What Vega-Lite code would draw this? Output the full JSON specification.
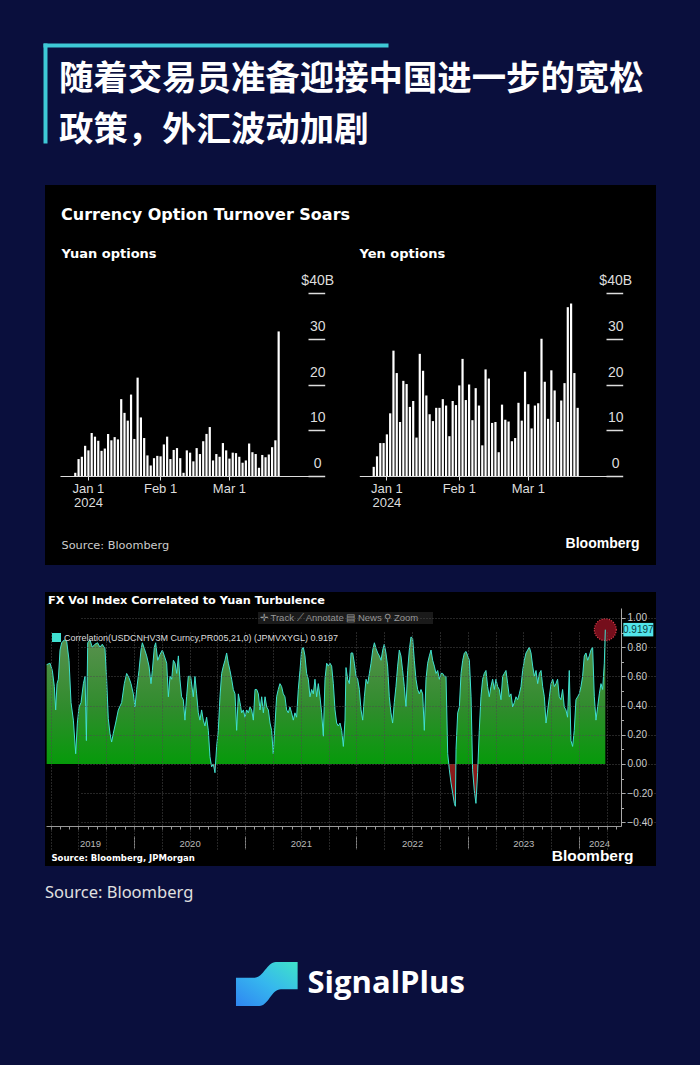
{
  "$schema": "https://vega.github.io/schema/vega-lite/v6.json",
  "background": "#0a0f3d",
  "padding": {"left": 44, "top": 45, "right": 45, "bottom": 0},
  "config": {"view": {"stroke": null}},
  "datasets": {
    "options": [
      {"date": "2023-12-26", "yuan": 0.7, "yen": 2.0},
      {"date": "2023-12-27", "yuan": 3.7, "yen": 4.3},
      {"date": "2023-12-28", "yuan": 4.2, "yen": 7.2},
      {"date": "2023-12-29", "yuan": 6.6, "yen": 7.2},
      {"date": "2024-01-02", "yuan": 5.6, "yen": 9.1},
      {"date": "2024-01-03", "yuan": 9.4, "yen": 13.7},
      {"date": "2024-01-04", "yuan": 8.6, "yen": 27.4},
      {"date": "2024-01-05", "yuan": 7.7, "yen": 22.5},
      {"date": "2024-01-08", "yuan": 5.5, "yen": 11.8},
      {"date": "2024-01-09", "yuan": 6.0, "yen": 20.8},
      {"date": "2024-01-10", "yuan": 9.2, "yen": 20.1},
      {"date": "2024-01-11", "yuan": 7.8, "yen": 15.1},
      {"date": "2024-01-12", "yuan": 8.5, "yen": 16.4},
      {"date": "2024-01-15", "yuan": 8.0, "yen": 8.4},
      {"date": "2024-01-16", "yuan": 16.8, "yen": 26.7},
      {"date": "2024-01-17", "yuan": 13.8, "yen": 23.0},
      {"date": "2024-01-18", "yuan": 12.1, "yen": 17.6},
      {"date": "2024-01-19", "yuan": 17.8, "yen": 13.5},
      {"date": "2024-01-22", "yuan": 8.1, "yen": 12.0},
      {"date": "2024-01-23", "yuan": 21.5, "yen": 14.9},
      {"date": "2024-01-24", "yuan": 12.8, "yen": 14.9},
      {"date": "2024-01-25", "yuan": 8.3, "yen": 16.8},
      {"date": "2024-01-26", "yuan": 4.5, "yen": 15.4},
      {"date": "2024-01-29", "yuan": 2.3, "yen": 8.7},
      {"date": "2024-01-30", "yuan": 3.9, "yen": 16.4},
      {"date": "2024-01-31", "yuan": 4.4, "yen": 15.5},
      {"date": "2024-02-01", "yuan": 4.3, "yen": 19.8},
      {"date": "2024-02-02", "yuan": 6.9, "yen": 25.6},
      {"date": "2024-02-05", "yuan": 8.6, "yen": 16.6},
      {"date": "2024-02-06", "yuan": 3.7, "yen": 20.0},
      {"date": "2024-02-07", "yuan": 5.7, "yen": 12.2},
      {"date": "2024-02-08", "yuan": 6.1, "yen": 19.2},
      {"date": "2024-02-09", "yuan": 3.9, "yen": 15.4},
      {"date": "2024-02-12", "yuan": 0.7, "yen": 6.7},
      {"date": "2024-02-13", "yuan": 5.6, "yen": 23.3},
      {"date": "2024-02-14", "yuan": 5.1, "yen": 21.3},
      {"date": "2024-02-15", "yuan": 3.2, "yen": 11.6},
      {"date": "2024-02-16", "yuan": 6.1, "yen": 11.8},
      {"date": "2024-02-19", "yuan": 4.8, "yen": 5.2},
      {"date": "2024-02-20", "yuan": 7.6, "yen": 15.6},
      {"date": "2024-02-21", "yuan": 9.2, "yen": 12.3},
      {"date": "2024-02-22", "yuan": 10.7, "yen": 11.9},
      {"date": "2024-02-23", "yuan": 3.4, "yen": 7.6},
      {"date": "2024-02-26", "yuan": 4.8, "yen": 8.3},
      {"date": "2024-02-27", "yuan": 4.2, "yen": 16.0},
      {"date": "2024-02-28", "yuan": 7.2, "yen": 12.1},
      {"date": "2024-02-29", "yuan": 5.6, "yen": 22.8},
      {"date": "2024-03-01", "yuan": 3.8, "yen": 15.7},
      {"date": "2024-03-04", "yuan": 5.1, "yen": 10.4},
      {"date": "2024-03-05", "yuan": 5.0, "yen": 15.4},
      {"date": "2024-03-06", "yuan": 4.2, "yen": 15.9},
      {"date": "2024-03-07", "yuan": 2.9, "yen": 30.0},
      {"date": "2024-03-08", "yuan": 3.4, "yen": 20.6},
      {"date": "2024-03-11", "yuan": 7.1, "yen": 12.5},
      {"date": "2024-03-12", "yuan": 5.2, "yen": 23.1},
      {"date": "2024-03-13", "yuan": 4.8, "yen": 18.7},
      {"date": "2024-03-14", "yuan": 1.8, "yen": 11.8},
      {"date": "2024-03-15", "yuan": 4.6, "yen": 16.5},
      {"date": "2024-03-18", "yuan": 4.1, "yen": 20.3},
      {"date": "2024-03-19", "yuan": 4.7, "yen": 36.9},
      {"date": "2024-03-20", "yuan": 6.3, "yen": 37.7},
      {"date": "2024-03-21", "yuan": 7.8, "yen": 22.5},
      {"date": "2024-03-22", "yuan": 31.6, "yen": 14.9}
    ],
    "fx": [
      {"t": 2019.215, "v": 0.68}, {"t": 2019.245, "v": 0.69}, {"t": 2019.266, "v": 0.64}, {"t": 2019.284, "v": 0.53},
      {"t": 2019.296, "v": 0.37}, {"t": 2019.308, "v": 0.55}, {"t": 2019.320, "v": 0.58}, {"t": 2019.335, "v": 0.78},
      {"t": 2019.350, "v": 0.83}, {"t": 2019.374, "v": 0.85}, {"t": 2019.395, "v": 0.84}, {"t": 2019.416, "v": 0.71},
      {"t": 2019.434, "v": 0.42}, {"t": 2019.455, "v": 0.30}, {"t": 2019.476, "v": 0.07}, {"t": 2019.491, "v": 0.28},
      {"t": 2019.506, "v": 0.39}, {"t": 2019.524, "v": 0.42}, {"t": 2019.545, "v": 0.55}, {"t": 2019.560, "v": 0.60},
      {"t": 2019.572, "v": 0.16}, {"t": 2019.584, "v": 0.83}, {"t": 2019.604, "v": 0.85}, {"t": 2019.625, "v": 0.80},
      {"t": 2019.649, "v": 0.82}, {"t": 2019.673, "v": 0.83}, {"t": 2019.694, "v": 0.80}, {"t": 2019.715, "v": 0.82},
      {"t": 2019.739, "v": 0.79}, {"t": 2019.754, "v": 0.58}, {"t": 2019.769, "v": 0.31}, {"t": 2019.784, "v": 0.21},
      {"t": 2019.799, "v": 0.15}, {"t": 2019.814, "v": 0.21}, {"t": 2019.835, "v": 0.28}, {"t": 2019.859, "v": 0.37},
      {"t": 2019.889, "v": 0.42}, {"t": 2019.913, "v": 0.55}, {"t": 2019.934, "v": 0.62}, {"t": 2019.955, "v": 0.59},
      {"t": 2019.973, "v": 0.55}, {"t": 2019.994, "v": 0.48}, {"t": 2020.009, "v": 0.39}, {"t": 2020.024, "v": 0.51},
      {"t": 2020.045, "v": 0.64}, {"t": 2020.063, "v": 0.78}, {"t": 2020.075, "v": 0.83}, {"t": 2020.093, "v": 0.79},
      {"t": 2020.114, "v": 0.74}, {"t": 2020.135, "v": 0.67}, {"t": 2020.153, "v": 0.55}, {"t": 2020.165, "v": 0.64},
      {"t": 2020.183, "v": 0.80}, {"t": 2020.195, "v": 0.83}, {"t": 2020.213, "v": 0.71}, {"t": 2020.234, "v": 0.75},
      {"t": 2020.255, "v": 0.78}, {"t": 2020.273, "v": 0.74}, {"t": 2020.294, "v": 0.69}, {"t": 2020.309, "v": 0.46},
      {"t": 2020.324, "v": 0.60}, {"t": 2020.339, "v": 0.58}, {"t": 2020.354, "v": 0.71}, {"t": 2020.369, "v": 0.69},
      {"t": 2020.384, "v": 0.62}, {"t": 2020.399, "v": 0.74}, {"t": 2020.413, "v": 0.58}, {"t": 2020.428, "v": 0.46},
      {"t": 2020.443, "v": 0.44}, {"t": 2020.458, "v": 0.30}, {"t": 2020.473, "v": 0.46}, {"t": 2020.488, "v": 0.60},
      {"t": 2020.509, "v": 0.60}, {"t": 2020.533, "v": 0.46}, {"t": 2020.548, "v": 0.60}, {"t": 2020.563, "v": 0.48},
      {"t": 2020.578, "v": 0.35}, {"t": 2020.593, "v": 0.30}, {"t": 2020.608, "v": 0.37}, {"t": 2020.623, "v": 0.30},
      {"t": 2020.638, "v": 0.26}, {"t": 2020.653, "v": 0.32}, {"t": 2020.668, "v": 0.23}, {"t": 2020.683, "v": 0.05},
      {"t": 2020.698, "v": -0.02}, {"t": 2020.713, "v": 0.00}, {"t": 2020.728, "v": -0.06}, {"t": 2020.743, "v": 0.12},
      {"t": 2020.758, "v": 0.23}, {"t": 2020.773, "v": 0.46}, {"t": 2020.788, "v": 0.62}, {"t": 2020.803, "v": 0.67},
      {"t": 2020.818, "v": 0.71}, {"t": 2020.833, "v": 0.76}, {"t": 2020.848, "v": 0.69}, {"t": 2020.863, "v": 0.64},
      {"t": 2020.878, "v": 0.58}, {"t": 2020.893, "v": 0.51}, {"t": 2020.908, "v": 0.48}, {"t": 2020.923, "v": 0.23},
      {"t": 2020.938, "v": 0.48}, {"t": 2020.953, "v": 0.42}, {"t": 2020.968, "v": 0.35}, {"t": 2020.983, "v": 0.37},
      {"t": 2020.998, "v": 0.32}, {"t": 2021.013, "v": 0.37}, {"t": 2021.028, "v": 0.35}, {"t": 2021.043, "v": 0.39},
      {"t": 2021.058, "v": 0.37}, {"t": 2021.073, "v": 0.30}, {"t": 2021.088, "v": 0.51}, {"t": 2021.103, "v": 0.51},
      {"t": 2021.118, "v": 0.48}, {"t": 2021.133, "v": 0.37}, {"t": 2021.148, "v": 0.46}, {"t": 2021.163, "v": 0.35},
      {"t": 2021.178, "v": 0.46}, {"t": 2021.193, "v": 0.39}, {"t": 2021.208, "v": 0.37}, {"t": 2021.223, "v": 0.28},
      {"t": 2021.237, "v": 0.23}, {"t": 2021.252, "v": 0.07}, {"t": 2021.267, "v": 0.26}, {"t": 2021.282, "v": 0.46},
      {"t": 2021.297, "v": 0.51}, {"t": 2021.312, "v": 0.55}, {"t": 2021.327, "v": 0.53}, {"t": 2021.342, "v": 0.48},
      {"t": 2021.357, "v": 0.46}, {"t": 2021.372, "v": 0.37}, {"t": 2021.387, "v": 0.35}, {"t": 2021.402, "v": 0.39},
      {"t": 2021.417, "v": 0.35}, {"t": 2021.432, "v": 0.30}, {"t": 2021.447, "v": 0.35}, {"t": 2021.462, "v": 0.32},
      {"t": 2021.477, "v": 0.51}, {"t": 2021.492, "v": 0.64}, {"t": 2021.507, "v": 0.78}, {"t": 2021.522, "v": 0.80},
      {"t": 2021.537, "v": 0.74}, {"t": 2021.552, "v": 0.62}, {"t": 2021.567, "v": 0.58}, {"t": 2021.582, "v": 0.46},
      {"t": 2021.597, "v": 0.51}, {"t": 2021.612, "v": 0.48}, {"t": 2021.627, "v": 0.58}, {"t": 2021.642, "v": 0.46},
      {"t": 2021.657, "v": 0.55}, {"t": 2021.672, "v": 0.46}, {"t": 2021.687, "v": 0.35}, {"t": 2021.702, "v": 0.19},
      {"t": 2021.717, "v": 0.58}, {"t": 2021.732, "v": 0.69}, {"t": 2021.747, "v": 0.67}, {"t": 2021.762, "v": 0.69},
      {"t": 2021.777, "v": 0.67}, {"t": 2021.792, "v": 0.55}, {"t": 2021.807, "v": 0.37}, {"t": 2021.822, "v": 0.28},
      {"t": 2021.837, "v": 0.26}, {"t": 2021.852, "v": 0.28}, {"t": 2021.867, "v": 0.23}, {"t": 2021.882, "v": 0.12},
      {"t": 2021.897, "v": 0.30}, {"t": 2021.906, "v": 0.66}, {"t": 2021.921, "v": 0.58}, {"t": 2021.936, "v": 0.55},
      {"t": 2021.951, "v": 0.76}, {"t": 2021.966, "v": 0.76}, {"t": 2021.981, "v": 0.69}, {"t": 2021.996, "v": 0.60},
      {"t": 2022.011, "v": 0.58}, {"t": 2022.026, "v": 0.51}, {"t": 2022.041, "v": 0.37}, {"t": 2022.056, "v": 0.30},
      {"t": 2022.071, "v": 0.46}, {"t": 2022.086, "v": 0.58}, {"t": 2022.101, "v": 0.55}, {"t": 2022.116, "v": 0.62},
      {"t": 2022.131, "v": 0.69}, {"t": 2022.146, "v": 0.78}, {"t": 2022.161, "v": 0.83}, {"t": 2022.176, "v": 0.79},
      {"t": 2022.191, "v": 0.76}, {"t": 2022.206, "v": 0.74}, {"t": 2022.221, "v": 0.71}, {"t": 2022.236, "v": 0.78},
      {"t": 2022.250, "v": 0.82}, {"t": 2022.265, "v": 0.76}, {"t": 2022.280, "v": 0.67}, {"t": 2022.295, "v": 0.46},
      {"t": 2022.310, "v": 0.35}, {"t": 2022.325, "v": 0.28}, {"t": 2022.340, "v": 0.42}, {"t": 2022.355, "v": 0.53},
      {"t": 2022.370, "v": 0.67}, {"t": 2022.385, "v": 0.78}, {"t": 2022.400, "v": 0.74}, {"t": 2022.415, "v": 0.64},
      {"t": 2022.430, "v": 0.53}, {"t": 2022.445, "v": 0.39}, {"t": 2022.460, "v": 0.64}, {"t": 2022.475, "v": 0.78},
      {"t": 2022.490, "v": 0.87}, {"t": 2022.505, "v": 0.86}, {"t": 2022.520, "v": 0.71}, {"t": 2022.535, "v": 0.58},
      {"t": 2022.550, "v": 0.51}, {"t": 2022.565, "v": 0.48}, {"t": 2022.580, "v": 0.51}, {"t": 2022.595, "v": 0.48},
      {"t": 2022.610, "v": 0.23}, {"t": 2022.625, "v": 0.58}, {"t": 2022.640, "v": 0.69}, {"t": 2022.655, "v": 0.74},
      {"t": 2022.670, "v": 0.78}, {"t": 2022.685, "v": 0.71}, {"t": 2022.700, "v": 0.67}, {"t": 2022.715, "v": 0.62},
      {"t": 2022.730, "v": 0.64}, {"t": 2022.745, "v": 0.58}, {"t": 2022.760, "v": 0.62}, {"t": 2022.775, "v": 0.62},
      {"t": 2022.790, "v": 0.60}, {"t": 2022.805, "v": 0.60}, {"t": 2022.820, "v": 0.07}, {"t": 2022.835, "v": -0.04},
      {"t": 2022.850, "v": -0.13}, {"t": 2022.865, "v": -0.20}, {"t": 2022.880, "v": -0.27}, {"t": 2022.889, "v": -0.29},
      {"t": 2022.895, "v": 0.10}, {"t": 2022.910, "v": 0.35}, {"t": 2022.925, "v": 0.39}, {"t": 2022.940, "v": 0.62},
      {"t": 2022.955, "v": 0.71}, {"t": 2022.970, "v": 0.76}, {"t": 2022.985, "v": 0.77}, {"t": 2023.000, "v": 0.74},
      {"t": 2023.015, "v": 0.71}, {"t": 2023.030, "v": 0.46}, {"t": 2023.044, "v": -0.04}, {"t": 2023.059, "v": -0.18},
      {"t": 2023.074, "v": -0.27}, {"t": 2023.089, "v": -0.06}, {"t": 2023.104, "v": 0.23}, {"t": 2023.119, "v": 0.46},
      {"t": 2023.134, "v": 0.58}, {"t": 2023.149, "v": 0.62}, {"t": 2023.164, "v": 0.64}, {"t": 2023.179, "v": 0.53},
      {"t": 2023.194, "v": 0.46}, {"t": 2023.209, "v": 0.53}, {"t": 2023.224, "v": 0.58}, {"t": 2023.239, "v": 0.51},
      {"t": 2023.254, "v": 0.58}, {"t": 2023.269, "v": 0.53}, {"t": 2023.284, "v": 0.51}, {"t": 2023.299, "v": 0.44},
      {"t": 2023.314, "v": 0.60}, {"t": 2023.329, "v": 0.62}, {"t": 2023.344, "v": 0.64}, {"t": 2023.359, "v": 0.55},
      {"t": 2023.374, "v": 0.46}, {"t": 2023.389, "v": 0.48}, {"t": 2023.404, "v": 0.39}, {"t": 2023.419, "v": 0.42},
      {"t": 2023.434, "v": 0.46}, {"t": 2023.449, "v": 0.44}, {"t": 2023.464, "v": 0.48}, {"t": 2023.479, "v": 0.53},
      {"t": 2023.494, "v": 0.64}, {"t": 2023.509, "v": 0.71}, {"t": 2023.524, "v": 0.76}, {"t": 2023.539, "v": 0.78},
      {"t": 2023.554, "v": 0.80}, {"t": 2023.569, "v": 0.76}, {"t": 2023.584, "v": 0.67}, {"t": 2023.599, "v": 0.60},
      {"t": 2023.614, "v": 0.64}, {"t": 2023.629, "v": 0.55}, {"t": 2023.644, "v": 0.62}, {"t": 2023.659, "v": 0.64},
      {"t": 2023.674, "v": 0.53}, {"t": 2023.689, "v": 0.46}, {"t": 2023.704, "v": 0.28}, {"t": 2023.719, "v": 0.37},
      {"t": 2023.734, "v": 0.46}, {"t": 2023.749, "v": 0.55}, {"t": 2023.764, "v": 0.58}, {"t": 2023.779, "v": 0.53},
      {"t": 2023.793, "v": 0.55}, {"t": 2023.808, "v": 0.58}, {"t": 2023.823, "v": 0.46}, {"t": 2023.838, "v": 0.44},
      {"t": 2023.853, "v": 0.51}, {"t": 2023.868, "v": 0.39}, {"t": 2023.883, "v": 0.37}, {"t": 2023.898, "v": 0.32},
      {"t": 2023.913, "v": 0.64}, {"t": 2023.928, "v": 0.16}, {"t": 2023.943, "v": 0.12}, {"t": 2023.958, "v": 0.23},
      {"t": 2023.973, "v": 0.44}, {"t": 2023.988, "v": 0.46}, {"t": 2024.003, "v": 0.48}, {"t": 2024.018, "v": 0.53},
      {"t": 2024.033, "v": 0.60}, {"t": 2024.048, "v": 0.74}, {"t": 2024.063, "v": 0.76}, {"t": 2024.078, "v": 0.71},
      {"t": 2024.093, "v": 0.74}, {"t": 2024.108, "v": 0.78}, {"t": 2024.123, "v": 0.80}, {"t": 2024.138, "v": 0.46},
      {"t": 2024.153, "v": 0.30}, {"t": 2024.168, "v": 0.39}, {"t": 2024.183, "v": 0.48}, {"t": 2024.198, "v": 0.55},
      {"t": 2024.213, "v": 0.51}, {"t": 2024.228, "v": 0.69}, {"t": 2024.237, "v": 0.9197}
    ]
  },
  "spacing": 37,
  "vconcat": [
    {
      "width": 341,
      "height": 96,
      "data": {"values": [
        {"line": "随着交易员准备迎接中国进一步的宽松", "row": 1},
        {"line": "政策，外汇波动加剧", "row": 2}
      ]},
      "mark": {"type": "text", "align": "left", "baseline": "middle", "dx": 14, "font": "Noto Sans CJK SC", "fontSize": 34.4, "fontWeight": "bold", "color": "#ffffff"},
      "encoding": {
        "x": {"datum": 0, "type": "quantitative", "scale": {"domain": [0, 1]},
              "axis": {"orient": "top", "domain": true, "domainColor": "#3ec9d6", "domainWidth": 4, "domainCap": "square", "ticks": false, "labels": false, "grid": false, "title": null}},
        "y": {"field": "row", "type": "quantitative", "scale": {"domain": [0.314, 2.196], "reverse": true, "nice": false, "zero": false},
              "axis": {"orient": "left", "domain": true, "domainColor": "#3ec9d6", "domainWidth": 4, "domainCap": "square", "ticks": false, "labels": false, "grid": false, "title": null}},
        "text": {"field": "line"}
      }
    },
    {
      "spacing": 27,
      "vconcat": [
        {
          "width": 611,
          "height": 380,
          "view": {"fill": "#000000", "stroke": null},
          "title": {"text": "Currency Option Turnover Soars", "anchor": "start", "frame": "group", "orient": "top", "offset": -46.3, "dx": 16, "baseline": "middle", "font": "DejaVu Sans", "fontSize": 16, "fontWeight": "bold", "color": "#ffffff"},
          "data": {"name": "options"},
          "layer": [
            {
              "mark": {"type": "bar", "color": "#ffffff"},
              "encoding": {
                "x": {"field": "date", "type": "ordinal",
                      "scale": {"type": "band", "range": [15, 278], "paddingInner": 0.33, "paddingOuter": 0.256, "align": 0.64,
                                "domain": ["2023-12-19", "2023-12-20", "2023-12-21", "2023-12-22",
                                           "2023-12-26", "2023-12-27", "2023-12-28", "2023-12-29", "2024-01-02", "2024-01-03", "2024-01-04", "2024-01-05",
                                           "2024-01-08", "2024-01-09", "2024-01-10", "2024-01-11", "2024-01-12", "2024-01-15", "2024-01-16", "2024-01-17",
                                           "2024-01-18", "2024-01-19", "2024-01-22", "2024-01-23", "2024-01-24", "2024-01-25", "2024-01-26", "2024-01-29",
                                           "2024-01-30", "2024-01-31", "2024-02-01", "2024-02-02", "2024-02-05", "2024-02-06", "2024-02-07", "2024-02-08",
                                           "2024-02-09", "2024-02-12", "2024-02-13", "2024-02-14", "2024-02-15", "2024-02-16", "2024-02-19", "2024-02-20",
                                           "2024-02-21", "2024-02-22", "2024-02-23", "2024-02-26", "2024-02-27", "2024-02-28", "2024-02-29", "2024-03-01",
                                           "2024-03-04", "2024-03-05", "2024-03-06", "2024-03-07", "2024-03-08", "2024-03-11", "2024-03-12", "2024-03-13",
                                           "2024-03-14", "2024-03-15", "2024-03-18", "2024-03-19", "2024-03-20", "2024-03-21", "2024-03-22",
                                           "2024-03-25", "2024-03-26", "2024-03-27", "2024-03-28", "2024-03-29", "2024-04-01", "2024-04-02", "2024-04-03",
                                           "2024-04-04", "2024-04-05", "2024-04-08", "2024-04-09", "2024-04-10"]},
                      "axis": {"orient": "bottom", "offset": -89, "values": ["2024-01-02", "2024-02-01", "2024-03-01"],
                               "labelExpr": "datum.value == '2024-01-02' ? ['Jan 1', '2024'] : datum.value == '2024-02-01' ? 'Feb 1' : 'Mar 1'",
                               "labelAngle": 0, "labelAlign": "center", "labelBaseline": "top", "labelPadding": 2, "labelLineHeight": 14,
                               "labelFont": "Liberation Sans", "labelFontSize": 13, "labelColor": "#dddddd",
                               "tickSize": 4, "tickColor": "#dddddd", "domainColor": "#dddddd", "grid": false,
                               "title": "Source: Bloomberg", "titleX": 16, "titleY": 69, "titleAlign": "left", "titleAnchor": "start", "titleBaseline": "middle",
                               "titleFont": "DejaVu Sans", "titleFontSize": 11.3, "titleFontWeight": "normal", "titleColor": "#cccccc"}},
                "y": {"field": "yuan", "type": "quantitative",
                      "scale": {"domain": [0, 40], "range": [291, 108], "nice": false},
                      "axis": {"orient": "right", "offset": -348, "values": [0, 10, 20, 30, 40],
                               "labelExpr": "datum.value == 40 ? '$40B' : datum.label",
                               "domain": false, "grid": false, "tickSize": 16.7, "tickWidth": 1.5, "tickColor": "#dddddd",
                               "labelAlign": "center", "labelBaseline": "middle", "labelPadding": -7.5, "labelOffset": -12.5,
                               "labelFont": "Liberation Sans", "labelFontSize": 14, "labelColor": "#dddddd",
                               "title": "Yuan options", "titleAngle": 0, "titleAlign": "left", "titleBaseline": "middle", "titleX": -247, "titleY": 68,
                               "titleFont": "DejaVu Sans", "titleFontSize": 13, "titleFontWeight": "bold", "titleColor": "#ffffff"}}
              }
            },
            {
              "mark": {"type": "bar", "color": "#ffffff"},
              "encoding": {
                "x": {"field": "date", "type": "ordinal",
                      "scale": {"type": "band", "range": [314.3, 576.7], "paddingInner": 0.33, "paddingOuter": 0.05, "align": 0.5,
                                "domain": ["2023-12-19", "2023-12-20", "2023-12-21", "2023-12-22",
                                           "2023-12-26", "2023-12-27", "2023-12-28", "2023-12-29", "2024-01-02", "2024-01-03", "2024-01-04", "2024-01-05",
                                           "2024-01-08", "2024-01-09", "2024-01-10", "2024-01-11", "2024-01-12", "2024-01-15", "2024-01-16", "2024-01-17",
                                           "2024-01-18", "2024-01-19", "2024-01-22", "2024-01-23", "2024-01-24", "2024-01-25", "2024-01-26", "2024-01-29",
                                           "2024-01-30", "2024-01-31", "2024-02-01", "2024-02-02", "2024-02-05", "2024-02-06", "2024-02-07", "2024-02-08",
                                           "2024-02-09", "2024-02-12", "2024-02-13", "2024-02-14", "2024-02-15", "2024-02-16", "2024-02-19", "2024-02-20",
                                           "2024-02-21", "2024-02-22", "2024-02-23", "2024-02-26", "2024-02-27", "2024-02-28", "2024-02-29", "2024-03-01",
                                           "2024-03-04", "2024-03-05", "2024-03-06", "2024-03-07", "2024-03-08", "2024-03-11", "2024-03-12", "2024-03-13",
                                           "2024-03-14", "2024-03-15", "2024-03-18", "2024-03-19", "2024-03-20", "2024-03-21", "2024-03-22",
                                           "2024-03-25", "2024-03-26", "2024-03-27", "2024-03-28", "2024-03-29", "2024-04-01", "2024-04-02", "2024-04-03",
                                           "2024-04-04", "2024-04-05", "2024-04-08", "2024-04-09", "2024-04-10"]},
                      "axis": {"orient": "bottom", "offset": -89, "values": ["2024-01-02", "2024-02-01", "2024-03-01"],
                               "labelExpr": "datum.value == '2024-01-02' ? ['Jan 1', '2024'] : datum.value == '2024-02-01' ? 'Feb 1' : 'Mar 1'",
                               "labelAngle": 0, "labelAlign": "center", "labelBaseline": "top", "labelPadding": 2, "labelLineHeight": 14,
                               "labelFont": "Liberation Sans", "labelFontSize": 13, "labelColor": "#dddddd",
                               "tickSize": 4, "tickColor": "#dddddd", "domainColor": "#dddddd", "grid": false,
                               "title": "Bloomberg", "titleX": 594, "titleY": 67, "titleAlign": "right", "titleAnchor": "end", "titleBaseline": "middle",
                               "titleFont": "Liberation Sans", "titleFontSize": 14, "titleFontWeight": "bold", "titleColor": "#ffffff"}},
                "y": {"field": "yen", "type": "quantitative",
                      "scale": {"domain": [0, 40], "range": [291, 108], "nice": false},
                      "axis": {"orient": "right", "offset": -50, "values": [0, 10, 20, 30, 40],
                               "labelExpr": "datum.value == 40 ? '$40B' : datum.label",
                               "domain": false, "grid": false, "tickSize": 16.7, "tickWidth": 1.5, "tickColor": "#dddddd",
                               "labelAlign": "center", "labelBaseline": "middle", "labelPadding": -7.5, "labelOffset": -12.5,
                               "labelFont": "Liberation Sans", "labelFontSize": 14, "labelColor": "#dddddd",
                               "title": "Yen options", "titleAngle": 0, "titleAlign": "left", "titleBaseline": "middle", "titleX": -247, "titleY": 68,
                               "titleFont": "DejaVu Sans", "titleFontSize": 13, "titleFontWeight": "bold", "titleColor": "#ffffff"}}
              }
            }
          ],
          "resolve": {"scale": {"x": "independent", "y": "independent"}, "axis": {"x": "independent", "y": "independent"}}
        },
        {
          "spacing": 19,
          "vconcat": [
            {
              "width": 611,
              "height": 274,
              "view": {"fill": "#000000", "stroke": null},
              "title": {"text": "FX Vol Index Correlated to Yuan Turbulence", "anchor": "start", "frame": "group", "orient": "top", "offset": -20, "dx": 3, "baseline": "middle", "font": "DejaVu Sans", "fontSize": 11.3, "fontWeight": "bold", "color": "#ffffff"},
              "data": {"name": "fx"},
              "layer": [
                {
                  "mark": {"type": "area", "opacity": 1, "color": {"gradient": "linear", "x1": 0, "y1": 0, "x2": 0, "y2": 1,
                    "stops": [{"offset": 0, "color": "#5e9152"}, {"offset": 0.45, "color": "#2f8c2c"}, {"offset": 0.76, "color": "#069a0a"}, {"offset": 0.7601, "color": "#8e1b1b"}, {"offset": 1, "color": "#7a1414"}]}},
                  "encoding": {
                    "x": {"field": "t", "type": "quantitative",
                          "scale": {"domain": [2019.209, 2024.378], "range": [1, 576], "nice": false, "zero": false},
                          "axis": {"orient": "bottom", "offset": -40, "zindex": 1,
                                   "values": [2019.25, 2019.5, 2019.75, 2020, 2020.25, 2020.5, 2020.75, 2021, 2021.25, 2021.5, 2021.75, 2022, 2022.25, 2022.5, 2022.75, 2023, 2023.25, 2023.5, 2023.75, 2024, 2024.25],
                                   "grid": true, "gridColor": "#4d4d4d", "gridDash": [1, 2], "gridWidth": 1, "ticks": false, "labels": false, "domain": false, "title": null}},
                    "y": {"field": "v", "type": "quantitative",
                          "scale": {"domain": [-0.425, 1.068], "range": [234, 16], "nice": false, "zero": false},
                          "axis": {"orient": "right", "offset": -35, "zindex": 1, "values": [-0.4, -0.2, 0, 0.2, 0.4, 0.6, 0.8, 1.0], "format": ".2f",
                                   "grid": true, "gridColor": "#4d4d4d", "gridDash": [1, 2], "domain": true, "domainColor": "#aaaaaa",
                                   "tickSize": 4, "tickColor": "#aaaaaa", "labelColor": "#cccccc", "labelFont": "Liberation Sans", "labelFontSize": 10,
                                   "labelPadding": 2, "labelBaseline": "middle", "title": null}},
                    "y2": {"datum": 0}
                  }
                },
                {
                  "transform": [{"filter": "datum.t > 2024.23"}],
                  "mark": {"type": "point", "shape": "circle", "size": 480, "filled": true, "fill": "#8a1020", "fillOpacity": 0.85, "stroke": "#e0404e", "strokeWidth": 1.2, "strokeDash": [1, 1.5]},
                  "encoding": {
                    "x": {"field": "t", "type": "quantitative",
                          "axis": {"orient": "bottom", "offset": -40, "values": [2019.604, 2020.5, 2021.5, 2022.5, 2023.5, 2024.18],
                                   "labelExpr": "'' + floor(datum.value)", "labelFlush": false, "labelOverlap": false,
                                   "ticks": false, "domain": false, "grid": false, "labelPadding": 12, "labelBaseline": "top",
                                   "labelColor": "#bbbbbb", "labelFont": "Liberation Sans", "labelFontSize": 9.5,
                                   "title": "Source: Bloomberg, JPMorgan", "titleX": 6, "titleY": 31, "titleAlign": "left", "titleAnchor": "start", "titleBaseline": "middle",
                                   "titleFont": "DejaVu Sans", "titleFontSize": 8.5, "titleFontWeight": "bold", "titleColor": "#ffffff"}},
                    "y": {"field": "v", "type": "quantitative", "axis": null}
                  }
                },
                {
                  "mark": {"type": "line", "strokeWidth": 1},
                  "encoding": {
                    "x": {"field": "t", "type": "quantitative",
                          "axis": {"orient": "bottom", "offset": -40,
                                   "values": [2019.25, 2019.333, 2019.417, 2019.5, 2019.583, 2019.667, 2019.75, 2019.833, 2019.917,
                                              2020, 2020.083, 2020.167, 2020.25, 2020.333, 2020.417, 2020.5, 2020.583, 2020.667, 2020.75, 2020.833, 2020.917,
                                              2021, 2021.083, 2021.167, 2021.25, 2021.333, 2021.417, 2021.5, 2021.583, 2021.667, 2021.75, 2021.833, 2021.917,
                                              2022, 2022.083, 2022.167, 2022.25, 2022.333, 2022.417, 2022.5, 2022.583, 2022.667, 2022.75, 2022.833, 2022.917,
                                              2023, 2023.083, 2023.167, 2023.25, 2023.333, 2023.417, 2023.5, 2023.583, 2023.667, 2023.75, 2023.833, 2023.917,
                                              2024, 2024.083, 2024.167, 2024.25, 2024.333],
                                   "ticks": true, "tickSize": 3, "tickColor": "#999999", "domain": true, "domainColor": "#999999",
                                   "labels": false, "grid": false, "title": null}},
                    "y": {"field": "v", "type": "quantitative",
                          "axis": {"orient": "right", "offset": -35, "values": [-0.3, -0.1, 0.1, 0.3, 0.5, 0.7, 0.9],
                                   "ticks": true, "tickSize": 2.5, "tickColor": "#aaaaaa", "labels": false, "domain": false, "grid": false, "title": null}},
                    "color": {"datum": "Correlation(USDCNHV3M Curncy,PR005,21,0) (JPMVXYGL) 0.9197",
                              "scale": {"range": ["#40e0d0"]},
                              "legend": {"orient": "none", "legendX": 7, "legendY": 588, "title": null, "padding": 0,
                                         "symbolType": "square", "symbolSize": 81, "symbolStrokeWidth": 0,
                                         "labelColor": "#dddddd", "labelFont": "Liberation Sans", "labelFontSize": 9, "labelOffset": 3, "labelLimit": 500,
                                         "encode": {"symbols": {"update": {"fill": {"value": "#40e0d0"}, "stroke": {"value": "#40e0d0"}, "strokeWidth": {"value": 0}}}}}}
                  }
                },
                {
                  "transform": [{"filter": "datum.t > 2024.23"}],
                  "mark": {"type": "point", "shape": "M-1,-0.45L1,-0.45L1,0.45L-1,0.45Z", "size": 900, "filled": true, "fill": "#52e5ea", "opacity": 1, "xOffset": 33},
                  "encoding": {
                    "x": {"field": "t", "type": "quantitative",
                          "axis": {"orient": "bottom", "offset": -30, "values": [2020, 2021, 2022, 2023, 2024],
                                   "ticks": true, "tickSize": 12, "tickColor": "#888888", "tickWidth": 1, "labels": false, "domain": false, "grid": false,
                                   "title": "Bloomberg", "titleX": 588, "titleY": 19, "titleAlign": "right", "titleAnchor": "end", "titleBaseline": "middle",
                                   "titleFont": "Liberation Sans", "titleFontSize": 15.5, "titleFontWeight": "bold", "titleColor": "#ffffff"}},
                    "y": {"field": "v", "type": "quantitative", "axis": null}
                  }
                },
                {
                  "transform": [{"filter": "datum.t > 2024.23"}],
                  "mark": {"type": "text", "dx": 33, "align": "center", "baseline": "middle", "font": "Liberation Sans", "fontSize": 10, "color": "#0b3b3e"},
                  "encoding": {
                    "x": {"field": "t", "type": "quantitative", "axis": null},
                    "y": {"field": "v", "type": "quantitative", "axis": null},
                    "text": {"field": "v", "type": "quantitative", "format": ".4f"}
                  }
                },
                {
                  "data": {"values": [{"tools": "toolbar"}]},
                  "mark": {"type": "rect", "color": "#1a1a1a", "opacity": 1},
                  "encoding": {
                    "x": {"datum": 2021.115, "type": "quantitative", "axis": null},
                    "x2": {"datum": 2022.688},
                    "y": {"datum": 1.041, "type": "quantitative", "axis": null},
                    "y2": {"datum": 0.959}
                  }
                },
                {
                  "data": {"values": [{"tools": "✛ Track   ⟋ Annotate   ▤ News   ⚲ Zoom"}]},
                  "mark": {"type": "text", "align": "left", "baseline": "middle", "font": "Liberation Sans", "fontSize": 9.5, "color": "#9a9a9a"},
                  "encoding": {
                    "x": {"datum": 2021.133, "type": "quantitative", "axis": null},
                    "y": {"datum": 1.0, "type": "quantitative", "axis": null},
                    "text": {"field": "tools"}
                  }
                }
              ],
              "resolve": {"axis": {"x": "independent", "y": "independent"}}
            },
            {
              "width": 611,
              "height": 162,
              "title": {"text": "Source: Bloomberg", "anchor": "start", "frame": "group", "orient": "top", "offset": -6.8, "baseline": "middle", "font": "Noto Sans", "fontSize": 16.5, "fontWeight": "normal", "color": "#e0e0e0"},
              "data": {"values": [{"brand": "SignalPlus"}]},
              "layer": [
                {
                  "mark": {"type": "point", "shape": "M-1,-0.205L-0.405,-0.205C-0.1,-0.205 0,-0.714 0.297,-0.714L1,-0.714L1,0.173L0.459,0.173C0.15,0.173 0.05,0.714 -0.243,0.714L-1,0.714Z",
                           "size": 3800, "filled": true, "strokeWidth": 0, "opacity": 1, "xOffset": -83.7,
                           "fill": {"gradient": "linear", "x1": 0, "y1": 1, "x2": 1, "y2": 0, "stops": [{"offset": 0, "color": "#2f86f2"}, {"offset": 0.5, "color": "#36b7ee"}, {"offset": 1, "color": "#3fe3c9"}]}},
                  "encoding": {}
                },
                {
                  "mark": {"type": "text", "align": "left", "baseline": "middle", "dx": -43, "font": "Open Sans", "fontSize": 31, "fontWeight": "bold", "color": "#ffffff"},
                  "encoding": {"text": {"field": "brand"}}
                }
              ]
            }
          ]
        }
      ]
    }
  ]
}
